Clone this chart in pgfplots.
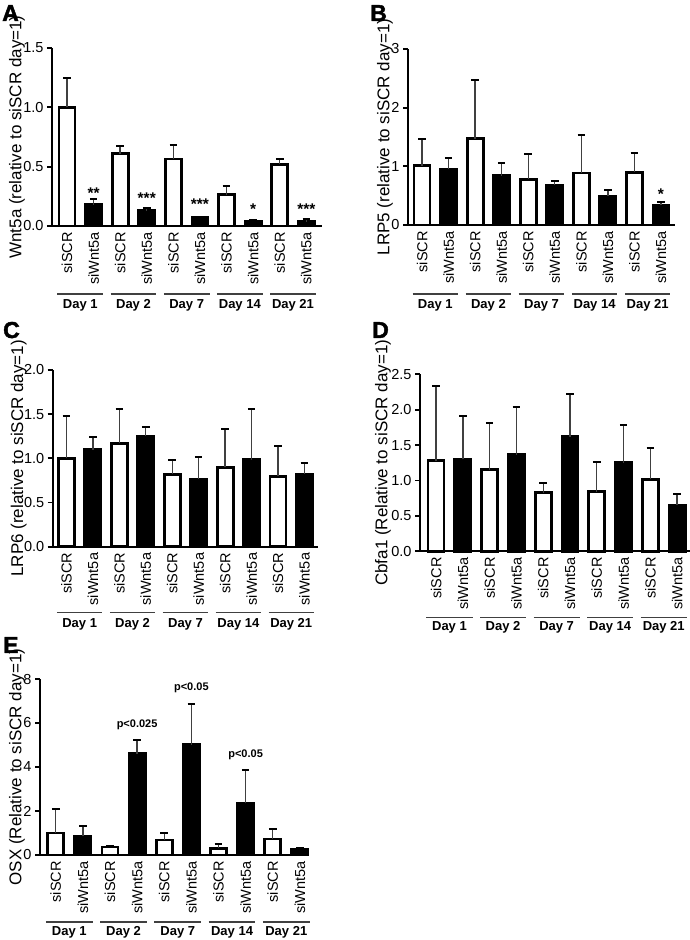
\documentclass[border=0pt]{standalone}
\usepackage{fontspec}
\setmainfont{Liberation Sans}
\newfontfamily\heavy[BoldFeatures={FakeBold=2}]{Liberation Sans}
\usepackage{pgfplots}
\usepackage{pgfplotstable}
\pgfplotsset{compat=1.18}

% columns: siSCR mean, siSCR sem, siWnt5a mean, siWnt5a sem  (days 1,2,7,14,21)
\pgfplotstableread{
scr   escr  wnt   ewnt
1.00  0.25  0.18  0.045
0.61  0.065 0.13  0.02
0.565 0.115 0.073 0.006
0.265 0.07  0.042 0.008
0.52  0.046 0.036 0.02
}\dataA
\pgfplotstableread{
scr   escr  wnt   ewnt
1.01  0.45  0.95  0.20
1.47  1.01  0.84  0.21
0.78  0.43  0.68  0.076
0.886 0.645 0.49  0.11
0.90  0.32  0.335 0.055
}\dataB
\pgfplotstableread{
scr   escr  wnt   ewnt
1.00  0.48  1.10  0.145
1.17  0.385 1.253 0.107
0.82  0.165 0.766 0.25
0.90  0.43  0.985 0.57
0.796 0.34  0.823 0.127
}\dataC
\pgfplotstableread{
scr   escr  wnt   ewnt
1.28  1.06  1.30  0.61
1.153 0.657 1.365 0.675
0.83  0.14  1.62  0.60
0.843 0.414 1.252 0.538
1.017 0.447 0.654 0.16
}\dataD
\pgfplotstableread{
scr   escr  wnt   ewnt
1.00  1.09  0.85  0.47
0.36  0.03  4.61  0.60
0.68  0.34  5.02  1.83
0.30  0.18  2.35  1.53
0.73  0.47  0.27  0.03
}\dataE

\pgfplotsset{
  panel/.style={
    scale only axis, anchor=south west, clip=false,
    axis x line*=bottom, axis y line*=left,
    axis line style={line width=2pt, black},
    ymin=0,
    xtick={0,...,9},
    xticklabels={siSCR,siWnt5a,siSCR,siWnt5a,siSCR,siWnt5a,siSCR,siWnt5a,siSCR,siWnt5a},
    xtick style={draw=none},
    ytick style={line width=1.8pt, black},
    major tick length=5pt, tick align=outside,
    tick label style={font=\fontsize{14.5}{15}\selectfont, black},
    xticklabel style={rotate=90, anchor=east, inner sep=1pt},
    /pgf/number format/assume math mode=true,
    label style={font=\fontsize{17}{18}\selectfont},
  },
  bars/.style={ybar, bar width=16pt, draw=black, line width=2.8pt,
    error bars/.cd, y dir=plus, y explicit, error mark=|,
    error bar style={line width=1.4pt, black!75},
    error mark options={line width=2pt, mark size=3.8pt, black}},
  scr/.style={fill=white, bars},
  wnt/.style={fill=black, bars},
}
\tikzset{
  letter/.style={anchor=base west, inner sep=0pt, font=\fontsize{23}{23}\selectfont\heavy\bfseries},
  stars/.style={font=\fontsize{15.5}{15.5}\selectfont\bfseries},
}

\newcommand\days[2]{%
  \draw[line width=1.4pt, black!75] ([yshift=-#1pt]axis cs:-0.36,0) -- ([yshift=-#1pt]axis cs:1.36,0);
  \draw[line width=1.4pt, black!75] ([yshift=-#1pt]axis cs:1.64,0) -- ([yshift=-#1pt]axis cs:3.36,0);
  \draw[line width=1.4pt, black!75] ([yshift=-#1pt]axis cs:3.64,0) -- ([yshift=-#1pt]axis cs:5.36,0);
  \draw[line width=1.4pt, black!75] ([yshift=-#1pt]axis cs:5.64,0) -- ([yshift=-#1pt]axis cs:7.36,0);
  \draw[line width=1.4pt, black!75] ([yshift=-#1pt]axis cs:7.64,0) -- ([yshift=-#1pt]axis cs:9.36,0);
  \node[font=\fontsize{13}{13}\selectfont\bfseries] at ([yshift=-#2pt]axis cs:0.5,0) {Day 1};
  \node[font=\fontsize{13}{13}\selectfont\bfseries] at ([yshift=-#2pt]axis cs:2.5,0) {Day 2};
  \node[font=\fontsize{13}{13}\selectfont\bfseries] at ([yshift=-#2pt]axis cs:4.5,0) {Day 7};
  \node[font=\fontsize{13}{13}\selectfont\bfseries] at ([yshift=-#2pt]axis cs:6.5,0) {Day 14};
  \node[font=\fontsize{13}{13}\selectfont\bfseries] at ([yshift=-#2pt]axis cs:8.5,0) {Day 21};
}

\begin{document}
\begin{tikzpicture}
\useasboundingbox (0,0) rectangle (690pt,940pt);

% panel letters
\node[letter] at (2pt,919pt) {A};
\node[letter] at (370pt,919pt) {B};
\node[letter] at (3pt,602pt) {C};
\node[letter] at (372pt,602pt) {D};
\node[letter] at (3pt,287pt) {E};

% A
\begin{axis}[panel, at={(52pt,714pt)}, width=270pt, height=178pt,
  xmin=-0.564, xmax=9.59, ymax=1.5, ytick={0,0.5,1,1.5},
  yticklabel style={/pgf/number format/.cd, fixed, fixed zerofill, precision=1},
  ylabel={Wnt5a (relative to siSCR day=1)},
  ylabel style={at={([xshift=-35pt]axis description cs:0,0.5)}, anchor=center}]
\addplot[scr] table[x expr=2*\coordindex, y=scr, y error=escr] {\dataA};
\addplot[wnt] table[x expr=2*\coordindex+1, y=wnt, y error=ewnt] {\dataA};
\node[stars] at (axis cs:1,0.275) {**};
\node[stars] at (axis cs:3,0.235) {***};
\node[stars] at (axis cs:5,0.18) {***};
\node[stars] at (axis cs:7,0.138) {*};
\node[stars] at (axis cs:9,0.138) {***};
\days{68}{79}
\end{axis}

% B
\begin{axis}[panel, at={(408pt,715pt)}, width=267pt, height=176pt,
  xmin=-0.53, xmax=9.53, ymax=3, ytick={0,1,2,3},
  ylabel={LRP5 (relative to siSCR day=1)},
  ylabel style={at={([xshift=-23pt]axis description cs:0,0.5)}, anchor=center}]
\addplot[scr] table[x expr=2*\coordindex, y=scr, y error=escr] {\dataB};
\addplot[wnt] table[x expr=2*\coordindex+1, y=wnt, y error=ewnt] {\dataB};
\node[stars] at (axis cs:9,0.53) {*};
\days{69}{80}
\end{axis}

% C
\begin{axis}[panel, at={(52.7pt,393.3pt)}, width=265pt, height=176.7pt,
  xmin=-0.52, xmax=9.5, ymax=2, ytick={0,0.5,1,1.5,2},
  yticklabel style={/pgf/number format/.cd, fixed, fixed zerofill, precision=1},
  ylabel={LRP6 (relative to siSCR day=1)},
  ylabel style={at={([xshift=-34pt]axis description cs:0,0.5)}, anchor=center}]
\addplot[scr] table[x expr=2*\coordindex, y=scr, y error=escr] {\dataC};
\addplot[wnt] table[x expr=2*\coordindex+1, y=wnt, y error=ewnt] {\dataC};
\days{66}{78}
\end{axis}

% D
\begin{axis}[panel, at={(420pt,388.7pt)}, width=270pt, height=177pt,
  xmin=-0.6, xmax=9.48, ymax=2.5, ytick={0,0.5,1,1.5,2,2.5},
  yticklabel style={/pgf/number format/.cd, fixed, fixed zerofill, precision=1},
  ylabel={Cbfa1 (Relative to siSCR day=1)},
  ylabel style={at={([xshift=-37pt]axis description cs:0,0.5)}, anchor=center}]
\addplot[scr] table[x expr=2*\coordindex, y=scr, y error=escr] {\dataD};
\addplot[wnt] table[x expr=2*\coordindex+1, y=wnt, y error=ewnt] {\dataD};
\days{66}{76}
\end{axis}

% E
\begin{axis}[panel, at={(40pt,85pt)}, width=268pt, height=176pt,
  xmin=-0.58, xmax=9.3, ymax=8, ytick={0,2,4,6,8},
  ylabel={OSX (Relative to siSCR day=1)},
  ylabel style={at={([xshift=-23pt]axis description cs:0,0.5)}, anchor=center}]
\addplot[scr] table[x expr=2*\coordindex, y=scr, y error=escr] {\dataE};
\addplot[wnt] table[x expr=2*\coordindex+1, y=wnt, y error=ewnt] {\dataE};
\node[font=\fontsize{11}{11}\selectfont\bfseries] at (axis cs:3,5.9) {p<0.025};
\node[font=\fontsize{11}{11}\selectfont\bfseries] at (axis cs:5,7.59) {p<0.05};
\node[font=\fontsize{11}{11}\selectfont\bfseries] at (axis cs:7,4.55) {p<0.05};
\days{67}{77}
\end{axis}
\end{tikzpicture}
\end{document}
